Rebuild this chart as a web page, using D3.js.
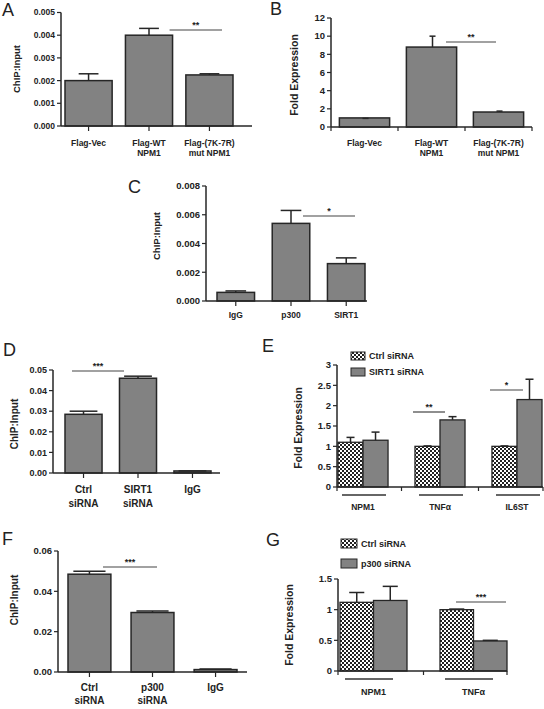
<!DOCTYPE html>
<html><head><meta charset="utf-8">
<script src="https://cdn.jsdelivr.net/npm/d3@7"></script>
<style>body{margin:0;background:#fff}svg{display:block}text{font-family:"Liberation Sans",Arial,sans-serif}</style>
</head><body>
<svg id="c" width="544" height="709"></svg>
<script>
// ---- DATA ----
const catsA = [["Flag-Vec"], ["Flag-WT", "NPM1"], ["Flag-(7K-7R)", "mut NPM1"]];
const valsA = [0.0020, 0.0040, 0.00225];
const errA  = [0.0023, 0.0043, 0.0023];
const ticksA = [0, 0.001, 0.002, 0.003, 0.004, 0.005];

const catsB = [["Flag-Vec"], ["Flag-WT", "NPM1"], ["Flag-(7K-7R)", "mut NPM1"]];
const valsB = [1.0, 8.8, 1.65];
const errB  = [0.95, 10.0, 1.75];
const ticksB = [0, 2, 4, 6, 8, 10, 12];

const catsC = [["IgG"], ["p300"], ["SIRT1"]];
const valsC = [0.0006, 0.0054, 0.0026];
const errC  = [0.0007, 0.0063, 0.0030];
const ticksC = [0, 0.002, 0.004, 0.006, 0.008];

const catsD = [["Ctrl", "siRNA"], ["SIRT1", "siRNA"], ["IgG"]];
const valsD = [0.0285, 0.046, 0.001];
const errD  = [0.030, 0.047, 0.001];
const ticksD = [0, 0.01, 0.02, 0.03, 0.04, 0.05];

const genesE = ["NPM1", "TNF\u03b1", "IL6ST"];
const seriesE = ["Ctrl siRNA", "SIRT1 siRNA"];
const ctrlE = [1.10, 1.0, 1.0];
const ctrlErrE = [1.22, 1.01, 1.01];
const sirtE = [1.15, 1.65, 2.15];
const sirtErrE = [1.35, 1.73, 2.65];
const ticksE = [0, 0.5, 1, 1.5, 2, 2.5, 3];

const catsF = [["Ctrl", "siRNA"], ["p300", "siRNA"], ["IgG"]];
const valsF = [0.0485, 0.0295, 0.0012];
const errF  = [0.050, 0.0302, 0.0015];
const ticksF = [0, 0.02, 0.04, 0.06];

const genesG = ["NPM1", "TNF\u03b1"];
const seriesG = ["Ctrl siRNA", "p300 siRNA"];
const ctrlG = [1.12, 1.0];
const ctrlErrG = [1.28, 1.01];
const p300G = [1.15, 0.49];
const p300ErrG = [1.38, 0.50];
const ticksG = [0, 0.5, 1, 1.5];

// ---- DRAWING ----
const svg = d3.select("#c");
const GRAY = "#828282", DARK = "#262626";
const defs = svg.append("defs");
const pat = defs.append("pattern").attr("id","chk").attr("patternUnits","userSpaceOnUse")
  .attr("width",4).attr("height",4);
pat.append("rect").attr("width",4).attr("height",4).attr("fill","#fff");
pat.append("rect").attr("width",2).attr("height",2).attr("fill","#222");
pat.append("rect").attr("x",2).attr("y",2).attr("width",2).attr("height",2).attr("fill","#222");

function letter(t, x, y){
  svg.append("text").attr("x",x).attr("y",y).attr("font-size",18).attr("fill","#222").text(t);
}

function yAxis(g, y, ticks, fmt, ax, fs){
  g.append("line").attr("x1",ax).attr("x2",ax).attr("y1",y.range()[0]).attr("y2",y.range()[1])
    .attr("stroke",DARK).attr("stroke-width",1.5);
  ticks.forEach(t=>{
    g.append("line").attr("x1",ax-4).attr("x2",ax).attr("y1",y(t)).attr("y2",y(t)).attr("stroke",DARK).attr("stroke-width",1.2);
    g.append("text").attr("x",ax-6).attr("y",y(t)).attr("dy","0.35em").attr("text-anchor","end")
      .attr("font-size",fs).attr("font-weight","bold").attr("fill","#222").text(fmt(t));
  });
}

function yLabel(t, x, cy, fs){
  svg.append("text").attr("transform",`translate(${x},${cy}) rotate(-90)`).attr("text-anchor","middle")
    .attr("font-size",fs).attr("font-weight","bold").attr("fill","#222").text(t);
}

function errBar(x, yTop, yErr, cap){
  svg.append("line").attr("x1",x).attr("x2",x).attr("y1",yTop).attr("y2",yErr).attr("stroke",DARK).attr("stroke-width",1.5);
  svg.append("line").attr("x1",x-cap/2).attr("x2",x+cap/2).attr("y1",yErr).attr("y2",yErr).attr("stroke",DARK).attr("stroke-width",1.5);
}

function sig(x1, x2, y, s){
  svg.append("line").attr("x1",x1).attr("x2",x2).attr("y1",y).attr("y2",y).attr("stroke","#444").attr("stroke-width",1.2);
  svg.append("text").attr("x",(x1+x2)/2).attr("y",y-2).attr("text-anchor","middle").attr("font-size",9)
    .attr("font-weight","bold").attr("fill","#222").text(s);
}

function simplePanel(o){
  const y = d3.scaleLinear().domain([0, o.ticks[o.ticks.length-1]]).range([o.y0, o.yTop]);
  const keys = o.cats.map((c,i)=>i);
  const x = d3.scaleBand().domain(keys).range(o.xr).paddingInner(o.pi).paddingOuter(o.po||0);
  const g = svg.append("g");
  keys.forEach(i=>{
    g.append("rect").attr("x",x(i)).attr("y",y(o.vals[i])).attr("width",x.bandwidth())
      .attr("height",y(0)-y(o.vals[i])).attr("fill",GRAY).attr("stroke",DARK).attr("stroke-width",1.5);
    const cx = x(i)+x.bandwidth()*(o.errOff||0.5);
    errBar(cx, y(o.vals[i]), y(o.err[i]), x.bandwidth()*o.cap);
  });
  g.append("line").attr("x1",o.ax).attr("x2",o.axEnd).attr("y1",o.y0).attr("y2",o.y0).attr("stroke",DARK).attr("stroke-width",1.5);
  if (o.boundaryTicks){
    const st = x.step();
    [0,1,2,3].forEach(k=>{
      const tx = o.xr[0] + k*st;
      g.append("line").attr("x1",tx).attr("x2",tx).attr("y1",o.y0).attr("y2",o.y0+4).attr("stroke",DARK).attr("stroke-width",1.2);
    });
  } else {
    keys.forEach(i=>{
      const tx = x(i)+x.bandwidth()/2;
      g.append("line").attr("x1",tx).attr("x2",tx).attr("y1",o.y0).attr("y2",o.y0+5).attr("stroke",DARK).attr("stroke-width",1.2);
    });
  }
  yAxis(g, y, o.ticks, o.fmt, o.ax, o.tfs);
  keys.forEach(i=>{
    o.cats[i].forEach((ln,j)=>{
      g.append("text").attr("x",x(i)+x.bandwidth()/2).attr("y",o.ly+j*o.lh).attr("text-anchor","middle")
        .attr("font-size",o.lfs).attr("font-weight","bold").attr("fill","#222").text(ln);
    });
  });
  return {x, y};
}

function groupedPanel(o){
  const y = d3.scaleLinear().domain([0, o.ticks[o.ticks.length-1]]).range([o.y0, o.yTop]);
  const x = d3.scaleBand().domain(o.genes).range(o.xr).paddingInner(o.pi).paddingOuter(0);
  const xs = d3.scaleBand().domain([0,1]).range([0, x.bandwidth()]).padding(0);
  const g = svg.append("g");
  o.genes.forEach((gn,i)=>{
    [[o.s0,o.e0,"url(#chk)"],[o.s1,o.e1,GRAY]].forEach((s,k)=>{
      const bx = x(gn)+xs(k);
      g.append("rect").attr("x",bx).attr("y",y(s[0][i])).attr("width",xs.bandwidth())
        .attr("height",y(0)-y(s[0][i])).attr("fill",s[2]).attr("stroke",DARK).attr("stroke-width",1.3);
      errBar(bx+xs.bandwidth()/2, y(s[0][i]), y(s[1][i]), xs.bandwidth()*o.cap);
    });
    g.append("line").attr("x1",x(gn)+o.ul[0]).attr("x2",x(gn)+x.bandwidth()-o.ul[1]).attr("y1",o.uly).attr("y2",o.uly)
      .attr("stroke","#333").attr("stroke-width",1.3);
    g.append("text").attr("x",x(gn)+x.bandwidth()/2).attr("y",o.ly).attr("text-anchor","middle")
      .attr("font-size",o.lfs).attr("font-weight","bold").attr("fill","#222").text(gn);
  });
  g.append("line").attr("x1",o.ax).attr("x2",o.axEnd).attr("y1",o.y0).attr("y2",o.y0).attr("stroke",DARK).attr("stroke-width",1.5);
  const tks = [o.ax];
  for (let i=0;i<o.genes.length-1;i++) tks.push((x(o.genes[i])+x.bandwidth()+x(o.genes[i+1]))/2);
  tks.push(o.axEnd);
  tks.forEach(tx=>g.append("line").attr("x1",tx).attr("x2",tx).attr("y1",o.y0).attr("y2",o.y0+4).attr("stroke",DARK).attr("stroke-width",1.2));
  yAxis(g, y, o.ticks, o.fmt, o.ax, o.tfs);
  o.series.forEach((s,k)=>{
    const ly = o.leg[1] + k*o.leg[2];
    g.append("rect").attr("x",o.leg[0]).attr("y",ly).attr("width",o.leg[3]).attr("height",o.leg[4])
      .attr("fill", k===0 ? "url(#chk)" : GRAY).attr("stroke",DARK).attr("stroke-width",1);
    g.append("text").attr("x",o.leg[0]+o.leg[3]+4).attr("y",ly+o.leg[4]/2).attr("dy","0.35em")
      .attr("font-size",9).attr("font-weight","bold").attr("fill","#222").text(s);
  });
  return {x, xs, y};
}

// Panel A
letter("A", 2, 16);
const pA = simplePanel({cats:catsA, vals:valsA, err:errA, ticks:ticksA, fmt:d3.format(".3f"),
  y0:126, yTop:12.5, xr:[65,233], pi:0.22, ax:61, axEnd:252, cap:0.42, tfs:8.5, ly:146, lh:10, lfs:8.5});
yLabel("ChIP:Input", 20, 69, 9.5);
sig(pA.x(1)+pA.x.bandwidth()-3, 222, 30, "**");

// Panel B
letter("B", 270, 15);
const pB = simplePanel({cats:catsB, vals:valsB, err:errB, ticks:ticksB, fmt:d3.format("d"),
  y0:127, yTop:18, xr:[331,532], pi:0.25, po:0.125, ax:331, axEnd:532, cap:0.12, errOff:0.52, boundaryTicks:true, tfs:9.5, ly:146, lh:10, lfs:8.5});
yLabel("Fold Expression", 298, 75, 10.5);
sig(446, 496, 42, "**");

// Panel C
letter("C", 128, 193);
const pC = simplePanel({cats:catsC, vals:valsC, err:errC, ticks:ticksC, fmt:d3.format(".3f"),
  y0:301, yTop:186, xr:[217,365], pi:0.32, ax:206, axEnd:367, cap:0.55, tfs:9.5, ly:318, lh:10, lfs:8.5});
yLabel("ChIP:Input", 160, 236, 9.5);
sig(303, 355, 216, "*");

// Panel D
letter("D", 3, 356);
const pD = simplePanel({cats:catsD, vals:valsD, err:errD, ticks:ticksD, fmt:d3.format(".2f"),
  y0:473, yTop:370, xr:[65,211], pi:0.32, ax:53, axEnd:220, cap:0.75, tfs:9, ly:493, lh:14, lfs:10});
yLabel("ChIP:Input", 18, 424, 10);
sig(72, 124, 371, "***");

// Panel E
letter("E", 262, 352);
const pE = groupedPanel({genes:genesE, series:seriesE, s0:ctrlE, e0:ctrlErrE, s1:sirtE, e1:sirtErrE,
  ticks:ticksE, fmt:d3.format("~g"), y0:487, yTop:365, xr:[338,542], pi:0.35, ax:337, axEnd:543,
  cap:0.32, tfs:9.5, ul:[4,2], uly:495, ly:510, lfs:8.5, leg:[351,352,16,14,8]});
yLabel("Fold Expression", 302, 428, 10.5);
sig(413, 445, 412, "**");
sig(490, 523, 390, "*");

// Panel F
letter("F", 2, 545);
const pF = simplePanel({cats:catsF, vals:valsF, err:errF, ticks:ticksF, fmt:d3.format(".2f"),
  y0:672, yTop:551, xr:[68,237], pi:0.32, ax:58, axEnd:247, cap:0.75, tfs:9.5, ly:691, lh:13, lfs:10});
yLabel("ChIP:Input", 18, 600, 10);
sig(103, 157, 567, "***");

// Panel G
letter("G", 266, 546);
const pG = groupedPanel({genes:genesG, series:seriesG, s0:ctrlG, e0:ctrlErrG, s1:p300G, e1:p300ErrG,
  ticks:ticksG, fmt:d3.format("~g"), y0:671, yTop:579, xr:[340,507], pi:0.33, ax:338, axEnd:507,
  cap:0.45, tfs:9.5, ul:[5,14], uly:679, ly:695, lfs:9, leg:[341,539,20,16,9]});
yLabel("Fold Expression", 293, 625, 10.5);
sig(456, 506, 602, "***");
</script>
</body></html>
